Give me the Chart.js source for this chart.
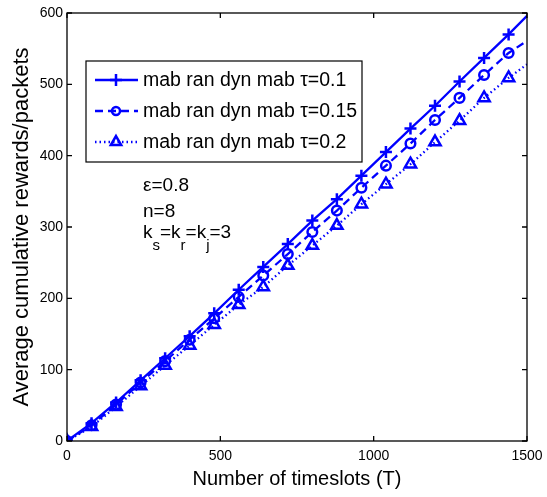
<!DOCTYPE html>
<html><head><meta charset="utf-8">
<script src="https://cdn.jsdelivr.net/npm/chart.js@4"></script>
<style>html,body{margin:0;padding:0;background:#fff}#wrap{width:547px;height:497px}</style>
</head><body><div id="wrap"><canvas id="c" width="547" height="497"></canvas></div>
<script>
const timeslots = [0,80,160,240,320,400,480,560,640,720,800,880,960,1040,1120,1200,1280,1360,1440,1500];
const tau01  = [0,25,54,85,116,147,179,212,244,276,309,339,372,405,438,470,504,537,570,596];
const tau015 = [0,22,51,82,112,142,172,202,232,262,293,323,355,386,417,450,481,513,544,561];
const tau02  = [0,20,48,77,106,134,163,191,216,246,274,302,332,360,388,419,449,481,509,528];
const seriesNames = ['mab ran dyn mab \u03C4=0.1','mab ran dyn mab \u03C4=0.15','mab ran dyn mab \u03C4=0.2'];
const xTicks = [0,500,1000,1500];
const yTicks = [0,100,200,300,400,500,600];
const BLUE = '#0000ff';
const FONT = 'Liberation Sans, Arial, sans-serif';

function pts(vals){ return timeslots.map((t,i)=>({x:t,y:vals[i]})); }
const lastIdx = timeslots.length-1;
function mk(size){ return c => c.dataIndex===lastIdx ? 0 : size; }

const specs = [
  {vals:tau01, dash:[], style:'cross', size:6, lsize:6},
  {vals:tau015, dash:[8,5], style:'circle', size:4.8, lsize:4},
  {vals:tau02, dash:[1.5,3], style:'triangle', size:6.5, lsize:6}
];

const datasets = specs.map((s,i)=>({
  label: seriesNames[i],
  data: pts(s.vals),
  borderColor: BLUE, backgroundColor: 'rgba(0,0,0,0)',
  borderWidth: 2.3, borderDash: s.dash,
  pointStyle: s.style, pointRadius: mk(s.size),
  pointBorderColor: BLUE, pointBackgroundColor: 'rgba(0,0,0,0)',
  pointBorderWidth: 2.5, pointHoverRadius:0,
  tension: 0, fill:false
}));

const deco = {
  id:'deco',
  afterDraw(chart){
    const ctx = chart.ctx, a = chart.chartArea;
    const xs = chart.scales.x, ys = chart.scales.y;
    ctx.save();
    ctx.strokeStyle = '#000'; ctx.lineWidth = 1.3; ctx.setLineDash([]);
    ctx.strokeRect(a.left, a.top, a.right-a.left, a.bottom-a.top);
    const L = 5;
    ctx.beginPath();
    xTicks.forEach(v=>{ const p = xs.getPixelForValue(v);
      ctx.moveTo(p,a.bottom); ctx.lineTo(p,a.bottom-L);
      ctx.moveTo(p,a.top); ctx.lineTo(p,a.top+L); });
    yTicks.forEach(v=>{ const p = ys.getPixelForValue(v);
      ctx.moveTo(a.left,p); ctx.lineTo(a.left+L,p);
      ctx.moveTo(a.right,p); ctx.lineTo(a.right-L,p); });
    ctx.stroke();

    // legend
    const bx=86, by=61, bw=276, bh=101;
    ctx.fillStyle='#fff'; ctx.fillRect(bx,by,bw,bh);
    ctx.lineWidth=1.2; ctx.strokeStyle='#000'; ctx.strokeRect(bx,by,bw,bh);
    const rows=[80,111,142];
    ctx.font = '19.5px '+FONT; ctx.textBaseline='middle';
    specs.forEach((s,i)=>{
      const y = rows[i];
      ctx.strokeStyle=BLUE; ctx.lineWidth=2.3; ctx.setLineDash(s.dash);
      ctx.beginPath(); ctx.moveTo(95,y); ctx.lineTo(138,y); ctx.stroke();
      ctx.setLineDash([]);
      ctx.fillStyle='rgba(0,0,0,0)'; ctx.strokeStyle=BLUE; ctx.lineWidth=2.5;
      Chart.helpers.drawPoint(ctx,{pointStyle:s.style, radius:s.lsize, borderWidth:2.5}, 116, y);
      ctx.fillStyle='#000';
      ctx.fillText(seriesNames[i],143,y+1);
    });

    // annotations
    ctx.fillStyle='#000'; ctx.textBaseline='alphabetic';
    ctx.font='19px '+FONT;
    ctx.fillText('\u03B5=0.8',143,191);
    ctx.fillText('n=8',143,217);
    let x=143; const base=238;
    const parts=[['k',0],['s',1],['=k',0],['r',1],['=k',0],['j',1],['=3',0]];
    parts.forEach(([t,sub])=>{
      ctx.font=(sub?'15px ':'19px ')+FONT;
      ctx.fillText(t,x,base+(sub?12:0));
      x+=ctx.measureText(t).width;
    });
    ctx.restore();
  }
};

new Chart(document.getElementById('c'),{
  type:'line',
  data:{datasets},
  options:{
    responsive:false, animation:false, devicePixelRatio:1,
    layout:{padding:{top:13,right:20,left:9,bottom:0}},
    plugins:{legend:{display:false},tooltip:{enabled:false}},
    scales:{
      x:{type:'linear',min:0,max:1500,
        afterBuildTicks(s){ s.ticks = xTicks.map(v=>({value:v})); },
        afterFit(s){ s.height = 56; s.paddingRight = 0; s.paddingLeft = 0; },
        grid:{display:false,drawTicks:false}, border:{display:false},
        ticks:{color:'#000',font:{size:14,family:FONT},padding:7,maxRotation:0,callback:v=>String(v)},
        title:{display:true,text:'Number of timeslots (T)',color:'#000',font:{size:20,family:FONT},padding:{top:0,bottom:6}}
      },
      y:{type:'linear',min:0,max:600,
        afterBuildTicks(s){ s.ticks = yTicks.map(v=>({value:v})); },
        afterFit(s){ s.width = 58; s.paddingTop = 0; s.paddingBottom = 0; },
        grid:{display:false,drawTicks:false}, border:{display:false},
        ticks:{color:'#000',font:{size:14,family:FONT},padding:4,callback:v=>String(v)},
        title:{display:true,text:'Average cumulative rewards/packets',color:'#000',font:{size:22,family:FONT},padding:{top:0,bottom:2}}
      }
    }
  },
  plugins:[deco]
});
</script></body></html>
